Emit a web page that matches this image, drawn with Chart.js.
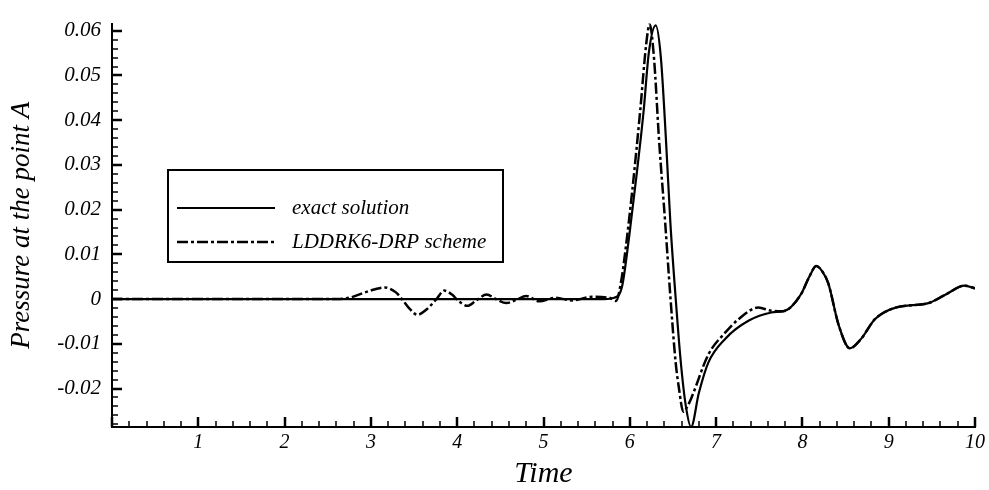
<!DOCTYPE html>
<html>
<head>
<meta charset="utf-8">
<script src="https://cdn.jsdelivr.net/npm/chart.js@4.4.0/dist/chart.umd.min.js"></script>
<style>
  html, body { margin: 0; padding: 0; background: #fff; }
</style>
</head>
<body>
<canvas id="pressureChart" width="989" height="490"></canvas>
<script>
// exact solution at point A
const exactTime = [0, 5.70, 5.82, 5.91, 5.99, 6.08, 6.16, 6.22, 6.30, 6.36, 6.42, 6.47, 6.53, 6.59, 6.65, 6.71,
  6.80, 6.91, 7.11, 7.38, 7.64, 7.78, 7.86, 7.99, 8.08, 8.16, 8.23, 8.30, 8.42, 8.55, 8.68, 8.84, 9.08, 9.46, 9.65, 9.88, 10.0];
const exactPressure = [0, 0, 0.0003, 0.0028, 0.0136, 0.028, 0.042, 0.055, 0.0612, 0.054, 0.0353, 0.0171, 0.0006, -0.0139, -0.024, -0.0286,
  -0.021, -0.0142, -0.0088, -0.0048, -0.0030, -0.0027, -0.0019, 0.0013, 0.0050, 0.0074, 0.0062, 0.0035, -0.0058, -0.0110, -0.0089, -0.0045, -0.0019, -0.0009, 0.0009, 0.0030, 0.0024];

// LDDRK6-DRP numerical result
const schemeTime = [0, 2.60, 2.75, 2.90, 3.05, 3.16, 3.29, 3.36, 3.45, 3.54, 3.64, 3.76, 3.85, 3.94, 4.02, 4.12, 4.22, 4.34, 4.45,
  4.57, 4.68, 4.80, 4.95, 5.14, 5.33, 5.56, 5.76, 5.84, 5.90, 5.95, 6.03, 6.12, 6.19, 6.23, 6.28, 6.34, 6.41, 6.47, 6.53, 6.57, 6.62, 6.68,
  6.72, 6.91, 7.11, 7.26, 7.49, 7.64, 7.78, 7.86, 7.99, 8.08, 8.16, 8.23, 8.30, 8.42, 8.55, 8.68, 8.84, 9.08, 9.46, 9.65, 9.88, 10.0];
const schemePressure = [0, 0, 0.0003, 0.0013, 0.0022, 0.0026, 0.0015, 0, -0.0022, -0.0035, -0.0024, 0, 0.0019, 0.0010, -0.0005, -0.0015, -0.0003, 0.0010, 0,
  -0.0009, -0.0002, 0.0007, -0.0005, 0.0003, -0.0003, 0.0005, 0.0003, -0.0004, 0.004, 0.011, 0.0245, 0.042, 0.057, 0.0615, 0.054, 0.0353, 0.0171, 0.0006, -0.0139, -0.020, -0.0252, -0.0235,
  -0.0218, -0.0124, -0.0074, -0.0045, -0.0019, -0.0026, -0.0027, -0.0019, 0.0013, 0.0050, 0.0074, 0.0062, 0.0035, -0.0058, -0.0110, -0.0089, -0.0045, -0.0019, -0.0009, 0.0009, 0.0030, 0.0024];

const xTickValues = [1, 2, 3, 4, 5, 6, 7, 8, 9, 10];
const yTickValues = [-0.02, -0.01, 0, 0.01, 0.02, 0.03, 0.04, 0.05, 0.06];

const serif = 'Liberation Serif, Times New Roman, serif';
const toPoints = (xs, ys) => xs.map((x, i) => ({ x: x, y: ys[i] }));

// small inward tick marks on both axes
const innerTicks = {
  id: 'innerTicks',
  afterDatasetsDraw(chart) {
    const { ctx, chartArea, scales } = chart;
    ctx.save();
    ctx.strokeStyle = '#000';
    for (let i = 0; i <= 50; i++) {
      const major = i % 5 === 0;
      const px = Math.round(scales.x.getPixelForValue(i * 0.2));
      ctx.lineWidth = major ? 2.5 : 1.5;
      ctx.beginPath();
      ctx.moveTo(px, chartArea.bottom);
      ctx.lineTo(px, chartArea.bottom - (major ? 10 : 6));
      ctx.stroke();
    }
    for (let i = -14; i <= 30; i++) {
      const major = i % 5 === 0;
      const py = Math.round(scales.y.getPixelForValue(i * 0.002));
      ctx.lineWidth = major ? 2.5 : 1.5;
      ctx.beginPath();
      ctx.moveTo(chartArea.left, py);
      ctx.lineTo(chartArea.left + (major ? 10 : 6), py);
      ctx.stroke();
    }
    ctx.restore();
  }
};

// boxed legend inside the plot
const boxLegend = {
  id: 'boxLegend',
  afterDraw(chart) {
    const ctx = chart.ctx;
    ctx.save();
    ctx.strokeStyle = '#000';
    ctx.lineWidth = 2;
    ctx.strokeRect(168, 170, 335, 92);
    ctx.font = 'italic 21px ' + serif;
    ctx.fillStyle = '#000';
    ctx.textBaseline = 'middle';
    chart.data.datasets.forEach((ds, i) => {
      const y = 208 + i * 34;
      ctx.lineWidth = ds.borderWidth;
      ctx.setLineDash(ds.borderDash || []);
      ctx.beginPath();
      ctx.moveTo(177, y);
      ctx.lineTo(275, y);
      ctx.stroke();
      ctx.setLineDash([]);
      ctx.fillText(ds.label, 292, y);
    });
    ctx.restore();
  }
};

Chart.defaults.color = '#000';

new Chart(document.getElementById('pressureChart').getContext('2d'), {
  type: 'line',
  data: {
    datasets: [
      {
        label: 'exact solution',
        data: toPoints(exactTime, exactPressure),
        borderColor: '#000',
        borderWidth: 2.2,
        pointRadius: 0,
        cubicInterpolationMode: 'monotone'
      },
      {
        label: 'LDDRK6-DRP scheme',
        data: toPoints(schemeTime, schemePressure),
        borderColor: '#000',
        borderWidth: 2.5,
        borderDash: [11, 3, 3, 3],
        pointRadius: 0,
        cubicInterpolationMode: 'monotone'
      }
    ]
  },
  options: {
    responsive: false,
    animation: false,
    layout: { padding: { top: 11, right: 12, left: 0, bottom: 0 } },
    plugins: {
      legend: { display: false },
      tooltip: { enabled: false }
    },
    scales: {
      x: {
        type: 'linear',
        min: 0,
        max: 10,
        grid: { display: false, drawTicks: false },
        border: { display: true, color: '#000', width: 2 },
        afterBuildTicks: scale => { scale.ticks = xTickValues.map(v => ({ value: v })); },
        afterFit: scale => { scale.height = 63; },
        ticks: {
          padding: 4,
          maxRotation: 0,
          font: { family: serif, style: 'italic', size: 20 },
          callback: v => String(v)
        },
        title: {
          display: true,
          text: 'Time',
          font: { family: serif, style: 'italic', size: 30, lineHeight: 1 },
          padding: { top: 0, bottom: 1 }
        }
      },
      y: {
        min: -0.0286,
        max: 0.0616,
        grid: { display: false, drawTicks: false },
        border: { display: true, color: '#000', width: 2 },
        afterBuildTicks: scale => { scale.ticks = yTickValues.map(v => ({ value: v })); },
        afterFit: scale => { scale.width = 112; },
        ticks: {
          padding: 11,
          font: { family: serif, style: 'italic', size: 21 },
          callback: v => (v === 0 ? '0' : v.toFixed(2))
        },
        title: {
          display: true,
          text: 'Pressure at the point A',
          font: { family: serif, style: 'italic', size: 27, lineHeight: 1 },
          padding: { top: 8, bottom: 0 }
        }
      }
    }
  },
  plugins: [innerTicks, boxLegend]
});
</script>
</body>
</html>
